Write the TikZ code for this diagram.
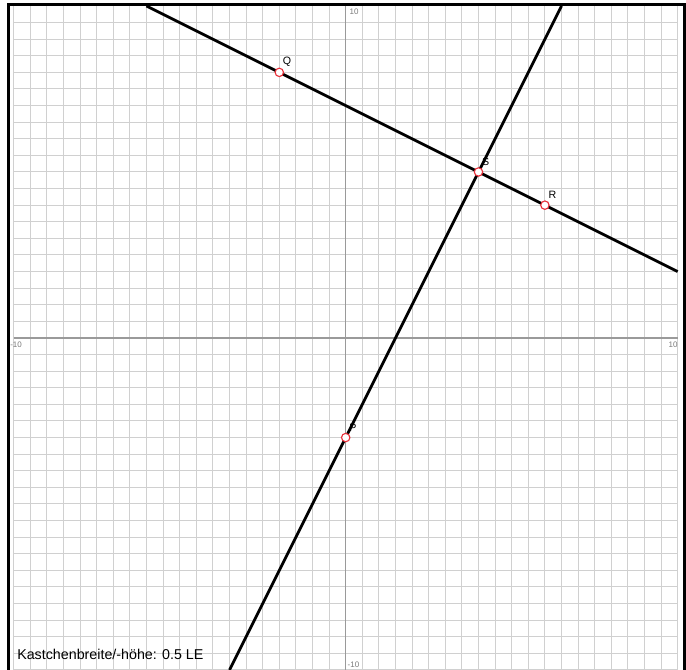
\documentclass[tikz,border=0pt]{standalone}
\usepackage{fontspec}
\setmainfont{Liberation Sans}
\usetikzlibrary{positioning}
\definecolor{gridgray}{HTML}{D0D0D0}
\definecolor{axisgray}{HTML}{9A9A9A}
\definecolor{ticklabel}{HTML}{7A7A7A}
\definecolor{pointred}{HTML}{E8303A}

\tikzset{
  gridline/.style={gridgray, line width=0.75pt},
  axisline/.style={axisgray, line width=0.9pt},
  gline/.style={black, line width=2.1pt},
  gpoint/.style={circle, draw=pointred, fill=white, line width=0.85pt,
                 inner sep=0pt, minimum size=6.3pt},
  plabel/.style={inner sep=0pt, font=\fontsize{8}{8}\selectfont},
  tlabel/.style={inner sep=0pt, ticklabel, font=\fontsize{6}{6}\selectfont}
}

\begin{document}
\begin{tikzpicture}[x=24.9pt, y=24.9pt]
  \useasboundingbox (-10.413,-10) rectangle (10.25,10.18);
  % Kaestchen
  \foreach \k in {-20,...,20}
    { \draw[gridline] (\k/2,-10) -- (\k/2,10);
      \draw[gridline] (-10,\k/2) -- (10,\k/2); }
  \draw[axisline] (-10,0) -- (10,0);
  \draw[axisline] (0,-10) -- (0,10);
  \node[tlabel] (ytop) at (0.25,9.83) {10};
  \node[tlabel] (xleft) at (-9.93,-0.21) {-10};
  \node[tlabel] (xright) at (9.86,-0.2) {10};
  \node[tlabel] (ybot) at (0.235,-9.83) {-10};
  % Rahmen
  \draw[line width=2.2pt] (-10.17,-10) -- (-10.17,10.045) -- (10.25,10.045);
  \draw[line width=2.2pt] (10.205,10.045) -- (10.205,-10);
  % Geraden
  \coordinate (qrA) at (-6,10);
  \coordinate (qrB) at (10,2);
  \coordinate (psA) at (-3.5,-10);
  \coordinate (psB) at (6.5,10);
  \draw[gline] (qrA) -- (qrB);
  \draw[gline] (psA) -- (psB);
  % Punkte
  \node[gpoint] (Q) at (-2,8) {};
  \node[gpoint] (S) at (4,5) {};
  \node[gpoint] (R) at (6,4) {};
  \node[gpoint] (P) at (0,-3) {};
  \node[plabel, above right=2pt and 0pt of Q] {Q};
  \node[plabel, above right=2pt and 0pt of S] {S};
  \node[plabel, above right=2pt and 0pt of R] {R};
  \node[plabel, above right=2pt and 0pt of P] {P};
  \node[anchor=base west, inner sep=0pt, font=\fontsize{10.7}{10.7}\selectfont]
    (info) at (-9.9,-9.7) {Kastchenbreite/-höhe: 0.5 LE};
\end{tikzpicture}
\end{document}
